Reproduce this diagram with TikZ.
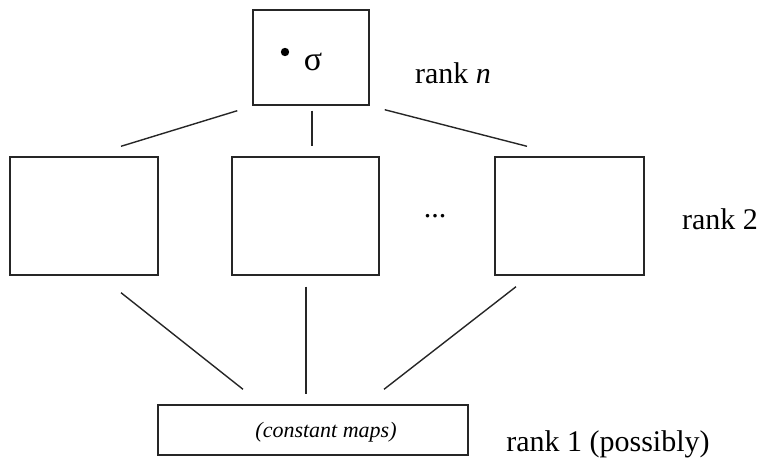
\documentclass[tikz,border=0pt]{standalone}
\usepackage{fontspec}
\setmainfont{Liberation Serif}
\usetikzlibrary{calc}
\begin{document}
\begin{tikzpicture}[x=1pt,y=-1pt,
  box/.style={draw=black!85,line width=1.4pt,minimum width=#1,inner sep=0pt},
  link/.style={draw=black!85,line width=1.4pt},
  lbl/.style={font=\fontsize{30}{30}\selectfont,anchor=base,inner sep=0pt}]
\useasboundingbox (0,0) rectangle (767,457);
% boxes for each rank
\node[box=116pt,minimum height=95pt] (top) at (311,57.5) {};
\node[box=148pt,minimum height=118pt] (b1) at (84,216) {};
\node[box=147pt,minimum height=118pt] (b2) at (305.5,216) {};
\node[box=149pt,minimum height=118pt] (b3) at (569.5,216) {};
\node[box=310pt,minimum height=50pt] (bot) at (313,430) {};
% contents of the boxes
\fill[black] (285,52) circle (4.2pt);
\node[font=\fontsize{34}{34}\selectfont,inner sep=0pt] (sig) at (313,62) {σ};
\node[font=\fontsize{22}{22}\selectfont\itshape,inner sep=0pt] (cm) at (326,432) {(constant maps)};
\node[font=\fontsize{30}{30}\selectfont,inner sep=0pt] (dots) at (435,216) {...};
% rank labels
\node[lbl] (rn) at (453,84) {rank \textit{n}};
\node[lbl] (r2) at (720,229) {rank 2};
\node[lbl] (r1) at (608,451) {rank 1 (possibly)};
% connectors between ranks
\draw[link] ($(top.south west)+(-15,5)$) -- ($(b1.north)+(37,-10)$);
\draw[link] ($(top.south)+(1,5)$) -- ($(b2.north)+(6.5,-10)$);
\draw[link] ($(top.south east)+(15,4)$) -- ($(b3.north)+(-42.5,-10)$);
\draw[link] ($(b1.south)+(37,17)$) -- ($(bot.north)+(-70,-15)$);
\draw[link] ($(b2.south)+(0.5,11)$) -- ($(bot.north)+(-7,-10)$);
\draw[link] ($(b3.south)+(-53.5,11)$) -- ($(bot.north)+(71,-15)$);
\end{tikzpicture}
\end{document}
